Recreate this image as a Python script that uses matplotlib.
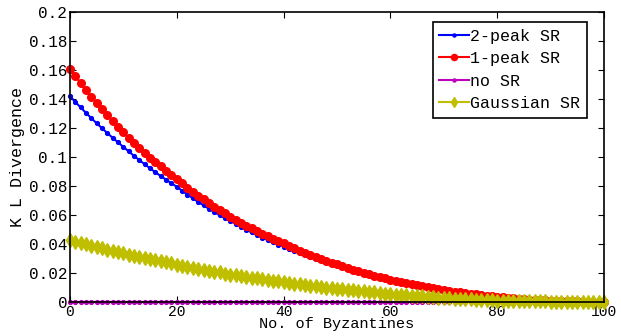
import numpy as np
import matplotlib
matplotlib.use('Agg')
import matplotlib.pyplot as plt

plt.rcParams['font.family'] = ['Liberation Mono', 'DejaVu Sans Mono']

# number of byzantines 0..100
byz = np.arange(0, 101)

# KL divergence, one value per byzantine count
kl_2peak = [0.1420, 0.1380, 0.1342, 0.1305, 0.1268, 0.1233, 0.1199, 0.1165, 0.1133, 0.1101,
            0.1070, 0.1039, 0.1008, 0.0979, 0.0950, 0.0922, 0.0895, 0.0869, 0.0844, 0.0819,
            0.0795, 0.0768, 0.0741, 0.0716, 0.0691, 0.0667, 0.0644, 0.0621, 0.0600, 0.0579,
            0.0560, 0.0539, 0.0519, 0.0499, 0.0480, 0.0462, 0.0445, 0.0428, 0.0412, 0.0397,
            0.0383, 0.0368, 0.0354, 0.0340, 0.0326, 0.0313, 0.0300, 0.0288, 0.0276, 0.0265,
            0.0255, 0.0242, 0.0230, 0.0218, 0.0207, 0.0197, 0.0187, 0.0178, 0.0169, 0.0160,
            0.0152, 0.0143, 0.0135, 0.0127, 0.0119, 0.0112, 0.0106, 0.0099, 0.0094, 0.0088,
            0.0083, 0.0076, 0.0070, 0.0065, 0.0060, 0.0056, 0.0051, 0.0047, 0.0044, 0.0040,
            0.0037, 0.0032, 0.0028, 0.0025, 0.0021, 0.0019, 0.0016, 0.0014, 0.0012, 0.0011,
            0.0010, 0.0008, 0.0007, 0.0006, 0.0005, 0.0004, 0.0003, 0.0002, 0.0002, 0.0001,
            0.0001]
kl_1peak = [0.1610, 0.1559, 0.1510, 0.1463, 0.1417, 0.1373, 0.1329, 0.1288, 0.1247, 0.1208,
            0.1170, 0.1133, 0.1098, 0.1063, 0.1030, 0.0997, 0.0966, 0.0936, 0.0906, 0.0878,
            0.0850, 0.0820, 0.0790, 0.0762, 0.0735, 0.0708, 0.0683, 0.0658, 0.0635, 0.0612,
            0.0590, 0.0568, 0.0547, 0.0527, 0.0508, 0.0489, 0.0471, 0.0454, 0.0437, 0.0421,
            0.0405, 0.0387, 0.0371, 0.0355, 0.0339, 0.0325, 0.0311, 0.0297, 0.0284, 0.0272,
            0.0260, 0.0247, 0.0234, 0.0223, 0.0212, 0.0201, 0.0191, 0.0181, 0.0172, 0.0163,
            0.0155, 0.0146, 0.0137, 0.0129, 0.0122, 0.0115, 0.0108, 0.0102, 0.0096, 0.0090,
            0.0085, 0.0078, 0.0072, 0.0067, 0.0062, 0.0057, 0.0053, 0.0048, 0.0045, 0.0041,
            0.0038, 0.0033, 0.0029, 0.0025, 0.0022, 0.0019, 0.0017, 0.0015, 0.0013, 0.0011,
            0.0010, 0.0009, 0.0007, 0.0006, 0.0005, 0.0004, 0.0003, 0.0003, 0.0002, 0.0001,
            0.0001]
kl_nosr = [0.0, 0.0, 0.0, 0.0, 0.0, 0.0, 0.0, 0.0, 0.0, 0.0,
           0.0, 0.0, 0.0, 0.0, 0.0, 0.0, 0.0, 0.0, 0.0, 0.0,
           0.0, 0.0, 0.0, 0.0, 0.0, 0.0, 0.0, 0.0, 0.0, 0.0,
           0.0, 0.0, 0.0, 0.0, 0.0, 0.0, 0.0, 0.0, 0.0, 0.0,
           0.0, 0.0, 0.0, 0.0, 0.0, 0.0, 0.0, 0.0, 0.0, 0.0,
           0.0, 0.0, 0.0, 0.0, 0.0, 0.0, 0.0, 0.0, 0.0, 0.0,
           0.0, 0.0, 0.0, 0.0, 0.0, 0.0, 0.0, 0.0, 0.0, 0.0,
           0.0, 0.0, 0.0, 0.0, 0.0, 0.0, 0.0, 0.0, 0.0, 0.0,
           0.0, 0.0, 0.0, 0.0, 0.0, 0.0, 0.0, 0.0, 0.0, 0.0,
           0.0, 0.0, 0.0, 0.0, 0.0, 0.0, 0.0, 0.0, 0.0, 0.0,
           0.0]
kl_gauss = [0.0425, 0.0416, 0.0407, 0.0398, 0.0389, 0.0380, 0.0371, 0.0362, 0.0353, 0.0344,
            0.0335, 0.0327, 0.0320, 0.0312, 0.0304, 0.0296, 0.0289, 0.0281, 0.0273, 0.0266,
            0.0258, 0.0251, 0.0244, 0.0238, 0.0231, 0.0224, 0.0217, 0.0210, 0.0204, 0.0197,
            0.0190, 0.0185, 0.0179, 0.0174, 0.0169, 0.0164, 0.0158, 0.0153, 0.0148, 0.0142,
            0.0137, 0.0132, 0.0128, 0.0123, 0.0118, 0.0114, 0.0109, 0.0104, 0.0099, 0.0095,
            0.0090, 0.0087, 0.0083, 0.0080, 0.0076, 0.0073, 0.0069, 0.0066, 0.0062, 0.0059,
            0.0055, 0.0052, 0.0050, 0.0047, 0.0044, 0.0042, 0.0039, 0.0036, 0.0033, 0.0031,
            0.0028, 0.0026, 0.0024, 0.0023, 0.0021, 0.0019, 0.0017, 0.0015, 0.0014, 0.0012,
            0.0010, 0.0009, 0.0009, 0.0008, 0.0007, 0.0007, 0.0006, 0.0005, 0.0004, 0.0004,
            0.0003, 0.0003, 0.0003, 0.0002, 0.0002, 0.0002, 0.0002, 0.0001, 0.0001, 0.0001,
            0.0001]

labels = ['2-peak SR', '1-peak SR', 'no SR', 'Gaussian SR']
xticks = [0, 20, 40, 60, 80, 100]
yticks = [0, 0.02, 0.04, 0.06, 0.08, 0.1, 0.12, 0.14, 0.16, 0.18, 0.2]
ytick_labels = ['0', '0.02', '0.04', '0.06', '0.08', '0.1', '0.12', '0.14', '0.16', '0.18', '0.2']

fig = plt.figure(figsize=(6.21, 3.36), dpi=100)
ax = fig.add_axes([0.1127, 0.101, 0.860, 0.863])

ax.plot(byz, kl_2peak, color='#0000ff', lw=1.5, marker='.', ms=5.5, label=labels[0], clip_on=False)
ax.plot(byz, kl_1peak, color='#ff0000', lw=1.5, marker='o', ms=5.5, label=labels[1], clip_on=False)
ax.plot(byz, kl_nosr, color='#bf00bf', lw=1.5, marker='.', ms=5.5, label=labels[2], clip_on=False)
ax.plot(byz, kl_gauss, color='#bfbf00', lw=1.5, marker='d', ms=7, label=labels[3], clip_on=False)

ax.set_xlim(0, 100)
ax.set_ylim(0, 0.2)
ax.set_xticks(xticks)
ax.set_yticks(yticks)
ax.set_yticklabels(ytick_labels)
ax.tick_params(direction='in', top=True, right=True, length=4, width=0.8, pad=2)
ax.tick_params(axis='y', labelsize=11.5)
ax.tick_params(axis='x', labelsize=10.5)
for s in ax.spines.values():
    s.set_linewidth(1.2)

ax.set_xlabel('No. of Byzantines', fontsize=11, labelpad=-1)
ax.set_ylabel('K L Divergence', fontsize=12, labelpad=3)

leg = ax.legend(loc='upper right', bbox_to_anchor=(0.968, 0.9655), borderaxespad=0,
                fontsize=12, fancybox=False, edgecolor='black', framealpha=1,
                borderpad=0.4, labelspacing=0.45, handlelength=1.75, handletextpad=0.1,
                markerscale=0.8)
leg.get_frame().set_linewidth(1.2)

plt.savefig('out.png', dpi=100)
